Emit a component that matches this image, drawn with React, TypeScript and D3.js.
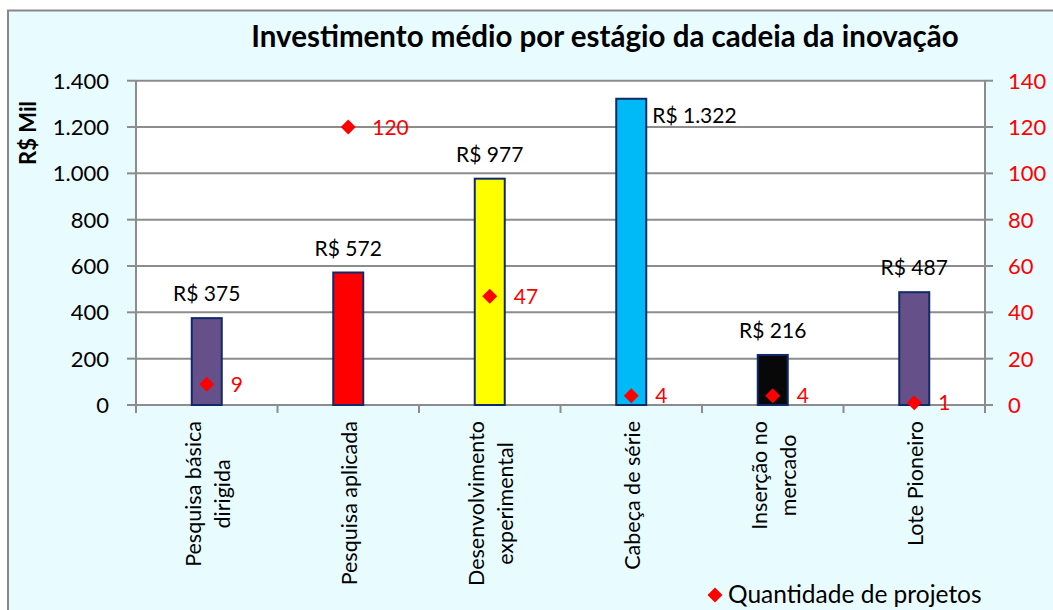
import React, { useEffect, useRef } from "react";
import * as d3 from "d3";

const categories = [
  ["Pesquisa básica", "dirigida"],
  ["Pesquisa aplicada"],
  ["Desenvolvimento", "experimental"],
  ["Cabeça de série"],
  ["Inserção no", "mercado"],
  ["Lote Pioneiro"],
];
const investment = [375, 572, 977, 1322, 216, 487];
const projects = [9, 120, 47, 4, 4, 1];
const barColors = ["#66508A", "#FF0000", "#FFFF00", "#00BAF7", "#080808", "#66508A"];
const leftTicks = [0, 200, 400, 600, 800, 1000, 1200, 1400];
const rightTicks = [0, 20, 40, 60, 80, 100, 120, 140];
const title = "Investimento médio por estágio da cadeia da inovação";
const yTitle = "R$ Mil";
const legendLabel = "Quantidade de projetos";

const FONT = "Lato, 'Open Sans', sans-serif";

export default function App() {
  const ref = useRef<SVGSVGElement>(null);
  useEffect(() => {
    const svg = d3.select(ref.current);
    svg.selectAll("*").remove();
    const W = 1053, H = 610;
    const left = 136, right = 985, top = 80.7, bottom = 405;
    const locale = d3.formatLocale({ decimal: ",", thousands: ".", grouping: [3], currency: ["R$ ", ""] });
    const fmt = locale.format(",d");

    svg.append("rect").attr("x", 8).attr("y", 10.5).attr("width", W + 20).attr("height", H + 20)
      .attr("fill", "#E8FCFF").attr("stroke", "#878787").attr("stroke-width", 2);

    const x = d3.scaleBand<number>().domain(d3.range(categories.length)).range([left, right]);
    const yL = d3.scaleLinear().domain([0, 1400]).range([bottom, top]);
    const yR = d3.scaleLinear().domain([0, 140]).range([bottom, top]);

    svg.append("rect").attr("x", left).attr("y", top).attr("width", right - left).attr("height", bottom - top).attr("fill", "#fff");

    const grid = "#8C8C8C";
    svg.append("g").selectAll("line").data(leftTicks.filter(t => t > 0)).join("line")
      .attr("x1", left).attr("x2", right).attr("y1", d => yL(d)).attr("y2", d => yL(d))
      .attr("stroke", grid).attr("stroke-width", 2);

    // left axis
    svg.append("line").attr("x1", left).attr("x2", left).attr("y1", top).attr("y2", bottom).attr("stroke", grid).attr("stroke-width", 2);
    svg.append("g").selectAll("line").data(leftTicks).join("line")
      .attr("x1", left - 9).attr("x2", left).attr("y1", d => yL(d)).attr("y2", d => yL(d)).attr("stroke", grid).attr("stroke-width", 2);
    svg.append("g").selectAll("text").data(leftTicks).join("text")
      .attr("x", 109).attr("y", d => yL(d)).attr("dy", "0.36em").attr("text-anchor", "end")
      .attr("font-family", FONT).attr("font-size", 22).attr("fill", "#000").text(d => fmt(d));

    // right axis
    svg.append("line").attr("x1", right).attr("x2", right).attr("y1", top).attr("y2", bottom).attr("stroke", grid).attr("stroke-width", 2);
    svg.append("g").selectAll("line").data(rightTicks).join("line")
      .attr("x1", right).attr("x2", right + 8).attr("y1", d => yR(d)).attr("y2", d => yR(d)).attr("stroke", grid).attr("stroke-width", 2);
    svg.append("g").selectAll("text").data(rightTicks).join("text")
      .attr("x", 1008).attr("y", d => yR(d)).attr("dy", "0.36em").attr("text-anchor", "start")
      .attr("font-family", FONT).attr("font-size", 22).attr("fill", "#FF0000").text(d => String(d));

    // bottom axis
    svg.append("line").attr("x1", left).attr("x2", right).attr("y1", bottom).attr("y2", bottom).attr("stroke", grid).attr("stroke-width", 2);
    svg.append("g").selectAll("line").data(d3.range(categories.length + 1)).join("line")
      .attr("x1", d => left + d * x.bandwidth()).attr("x2", d => left + d * x.bandwidth())
      .attr("y1", bottom).attr("y2", bottom + 8).attr("stroke", grid).attr("stroke-width", 2);

    // bars
    const bw = 30;
    svg.append("g").selectAll("rect").data(investment).join("rect")
      .attr("x", (d, i) => x(i)! + x.bandwidth() / 2 - bw / 2)
      .attr("y", d => yL(d)).attr("width", bw).attr("height", d => bottom - yL(d))
      .attr("fill", (d, i) => barColors[i]).attr("stroke", "#10296B").attr("stroke-width", 2);

    // bar labels
    svg.append("g").selectAll("text").data(investment).join("text")
      .attr("x", (d, i) => {
        const cx = x(i)! + x.bandwidth() / 2;
        return yL(d) - 40 < top ? cx + bw / 2 + 6 : cx;
      })
      .attr("y", d => (yL(d) - 40 < top ? yL(d) + 24 : yL(d) - 17))
      .attr("text-anchor", d => (yL(d) - 40 < top ? "start" : "middle"))
      .attr("font-family", FONT).attr("font-size", 21).attr("fill", "#000")
      .text(d => "R$ " + fmt(d));

    // markers
    const diamond = (cx: number, cy: number, r: number) => `M${cx},${cy - r}L${cx + r},${cy}L${cx},${cy + r}L${cx - r},${cy}Z`;
    svg.append("g").selectAll("path").data(projects).join("path")
      .attr("d", (d, i) => diamond(x(i)! + x.bandwidth() / 2, yR(d), 7.5)).attr("fill", "#FF0000");
    svg.append("g").selectAll("text").data(projects).join("text")
      .attr("x", (d, i) => x(i)! + x.bandwidth() / 2 + 24).attr("y", d => yR(d)).attr("dy", "0.36em")
      .attr("font-family", FONT).attr("font-size", 21).attr("fill", "#FF0000").text(d => String(d));

    // category labels
    const lineGap = 29;
    categories.forEach((lines, i) => {
      const cx = x(i)! + x.bandwidth() / 2 + 1;
      const g = svg.append("g");
      const texts = lines.map((ln) =>
        g.append("text").attr("text-anchor", "middle").attr("dominant-baseline", "central")
          .attr("font-family", FONT).attr("font-size", 21.5).attr("fill", "#000").text(ln)
      );
      const maxLen = d3.max(texts, t => (t.node() as SVGTextElement).getComputedTextLength()) || 0;
      const cy = 421 + maxLen / 2;
      texts.forEach((t, j) => {
        const off = (j - (lines.length - 1) / 2) * lineGap;
        t.attr("transform", `translate(${cx + off},${cy}) rotate(-90)`);
      });
    });

    // title
    svg.append("text").attr("x", 605).attr("y", 47).attr("text-anchor", "middle")
      .attr("font-family", FONT).attr("font-weight", "bold").attr("font-size", 29.5).attr("fill", "#000").text(title);

    // y title
    svg.append("text").attr("transform", `translate(36,133) rotate(-90)`).attr("text-anchor", "middle")
      .attr("font-family", FONT).attr("font-weight", "bold").attr("font-size", 22).attr("fill", "#000").text(yTitle);

    // legend
    svg.append("path").attr("d", diamond(715, 595, 7.5)).attr("fill", "#FF0000");
    svg.append("text").attr("x", 728).attr("y", 603).attr("font-family", FONT).attr("font-size", 24.5).attr("fill", "#000").text(legendLabel);
  }, []);
  return <svg ref={ref} width={1053} height={610} style={{ position: "absolute", left: 0, top: 0 }} />;
}
